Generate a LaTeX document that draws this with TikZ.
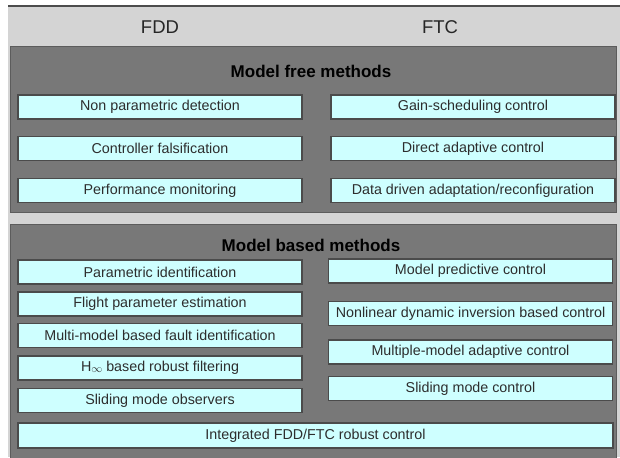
\documentclass[tikz,border=0pt]{standalone}
\usepackage{fontspec}
\setmainfont{Liberation Sans}
\usepackage{xcolor}
\usepackage{tikz}
\usetikzlibrary{positioning}

\definecolor{backgray}{RGB}{212,212,212}
\definecolor{panelgray}{RGB}{120,120,120}
\definecolor{panelline}{RGB}{92,92,92}
\definecolor{boxcyan}{RGB}{206,255,255}
\definecolor{boxline}{RGB}{75,75,75}
\definecolor{labelgray}{RGB}{45,45,45}

\tikzset{
	methodbox/.style={draw=boxline,line width=1.3pt,fill=boxcyan,inner sep=0pt,
		minimum width=284pt,minimum height=24pt,text=labelgray,
		font=\fontsize{14.3}{16}\selectfont},
	widebox/.style={methodbox,minimum width=595pt,minimum height=25pt},
	paneltitle/.style={text=black,font=\bfseries\fontsize{17}{19}\selectfont},
	coltitle/.style={text=black!85,font=\fontsize{18.5}{20}\selectfont}
}

\begin{document}
\begin{tikzpicture}[x=1pt,y=-1pt]
		\useasboundingbox (0,0) rectangle (620,457);
		\fill[backgray] (8,7) rectangle (620,457);
		\draw[line width=2pt,black!70] (8,6.5)--(620,6.5);
		\node[coltitle] (fdd) at (160,27) {FDD};
		\node[coltitle] (ftc) at (440,27) {FTC};
		% model free part
		\filldraw[fill=panelgray,draw=panelline,line width=1pt] (10,47) rectangle (616,212);
		\node[paneltitle] (mfree) at (311,71) {Model free methods};
		\node[methodbox] (npd) at (160,107) {Non parametric detection};
		\node[methodbox] (cfal) at (160,148.5) {Controller falsification};
		\node[methodbox] (pmon) at (160,190.5) {Performance monitoring};
		\node[methodbox] (gsc) at (473,107) {Gain-scheduling control};
		\node[methodbox] (dac) at (473,148.5) {Direct adaptive control};
		\node[methodbox] (ddar) at (473,190.5) {Data driven adaptation/reconfiguration};
		% model based part
		\filldraw[fill=panelgray,draw=panelline,line width=1pt] (10,224) rectangle (616,458);
		\node[paneltitle] (mbased) at (311,245) {Model based methods};
		\node[methodbox] (pid) at (160,272) {Parametric identification};
		\node[methodbox] (fpe) at (160,304) {Flight parameter estimation};
		\node[methodbox] (mmfi) at (160,335.5) {Multi-model based fault identification};
		\node[methodbox] (hinf) at (160,368) {H\raisebox{-1pt}{\fontsize{11}{11}\selectfont$\infty$} based robust filtering};
		\node[methodbox] (smo) at (160,400.5) {Sliding mode observers};
		\node[methodbox] (mpc) at (470.5,271) {Model predictive control};
		\node[methodbox] (ndi) at (470.5,313.5) {Nonlinear dynamic inversion based control};
		\node[methodbox] (mmac) at (470.5,352) {Multiple-model adaptive control};
		\node[methodbox] (smc) at (470.5,388.5) {Sliding mode control};
		\node[widebox] (ifr) at (315.5,435.5) {Integrated FDD/FTC robust control};
	\end{tikzpicture}
\end{document}
